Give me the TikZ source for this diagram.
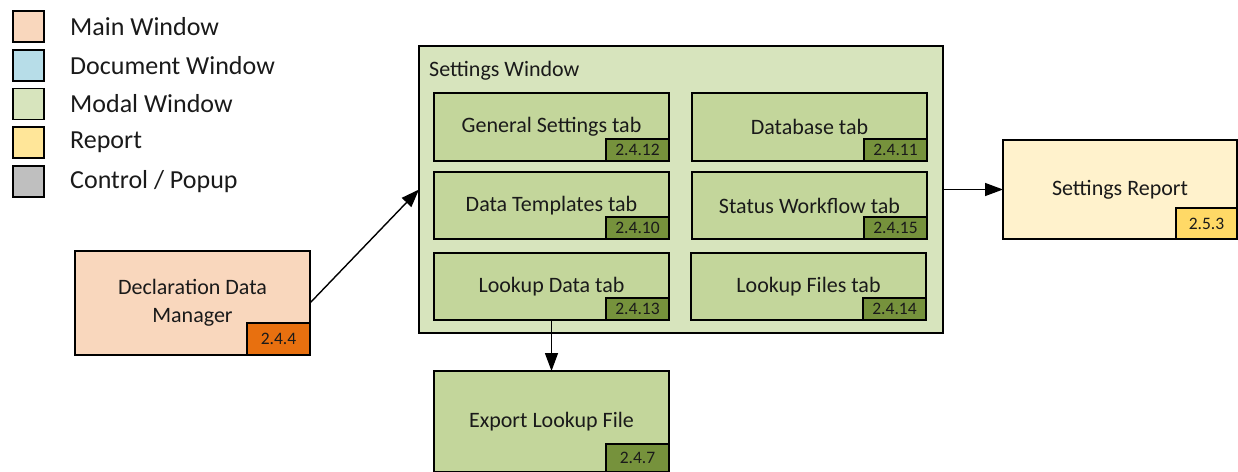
\documentclass[tikz,border=0pt]{standalone}
\usepackage{fontspec}
\setmainfont{Carlito}
\usetikzlibrary{arrows.meta}

\definecolor{mainfill}{HTML}{F9D7BD}
\definecolor{mainid}{HTML}{E8700F}
\definecolor{docfill}{HTML}{B7DDE8}
\definecolor{modalfill}{HTML}{D7E4BD}
\definecolor{tabfill}{HTML}{C3D69B}
\definecolor{modalid}{HTML}{76923C}
\definecolor{reportkey}{HTML}{FFE699}
\definecolor{reportfill}{HTML}{FFF2CC}
\definecolor{reportid}{HTML}{FFD966}
\definecolor{ctrlfill}{HTML}{BFBFBF}
\definecolor{ink}{HTML}{1A1A1A}

\tikzset{
  frame/.style={draw=black, line width=1.6pt, rectangle, inner sep=0pt, outer sep=0pt},
  keybox/.style={frame, minimum width=31pt, minimum height=31pt, anchor=north west},
  keytext/.style={anchor=west, inner sep=0pt, text=ink, font=\fontsize{26}{30}\selectfont},
  winbox/.style={frame, anchor=north west, text=ink, align=center,
    font=\fontsize{22}{27}\selectfont},
  tabbox/.style={winbox, fill=tabfill, minimum width=235pt, minimum height=68pt},
  idbox/.style={frame, anchor=south east, minimum width=63pt, text=ink,
    font=\fontsize{17.5}{20}\selectfont},
  flow/.style={draw=black, line width=1.4pt, -{Triangle[length=18pt,width=13pt]}}
}

\begin{document}
\begin{tikzpicture}[x=1pt,y=-1pt]
\useasboundingbox (0,0) rectangle (1238,471);

% legend
\node[keybox, fill=mainfill]   (k1) at (13,11)    {};
\node[keybox, fill=docfill]    (k2) at (13,49.75) {};
\node[keybox, fill=modalfill]  (k3) at (13,88.5)  {};
\node[keybox, fill=reportkey]  (k4) at (13,127.25){};
\node[keybox, fill=ctrlfill]   (k5) at (13,166)   {};
\node[keytext] (t1) at (70,26.5)  {Main Window};
\node[keytext] (t2) at (70,65.25) {Document Window};
\node[keytext] (t3) at (70,104)   {Modal Window};
\node[keytext] (t4) at (70,142.75){Report};
\node[keytext] (t5) at (70,181.5) {Control / Popup};

% main window
\node[winbox, fill=mainfill, minimum width=235pt, minimum height=104pt] (ddm) at (75,251)
  {Declaration Data\\[1pt]Manager};
\node[idbox, fill=mainid, minimum height=32pt] (ddmid) at (ddm.south east) {2.4.4};

% settings window with its tabs
\node[winbox, fill=modalfill, minimum width=524pt, minimum height=287pt] (sw) at (419,46) {};
\node[anchor=base west, inner sep=0pt, text=ink, font=\fontsize{22}{26}\selectfont]
  (swlabel) at (429,76) {Settings Window};

\node[tabbox] (gen) at (434,93)  {General Settings tab};
\node[tabbox] (db)  at (692,93)  {Database tab};
\node[tabbox, minimum height=67pt] (tpl) at (434,172) {Data Templates tab};
\node[tabbox, minimum height=67pt] (wf)  at (692,172) {Status Workflow tab};
\node[tabbox, minimum height=67pt] (lkd) at (434,253) {Lookup Data tab};
\node[tabbox, minimum height=67pt] (lkf) at (691,253) {Lookup Files tab};

\node[idbox, fill=modalid, minimum height=22pt] (genid) at (gen.south east) {2.4.12};
\node[idbox, fill=modalid, minimum height=22pt] (dbid)  at (db.south east)  {2.4.11};
\node[idbox, fill=modalid, minimum height=22pt] (tplid) at (tpl.south east) {2.4.10};
\node[idbox, fill=modalid, minimum height=22pt] (wfid)  at (wf.south east)  {2.4.15};
\node[idbox, fill=modalid, minimum height=22pt] (lkdid) at (lkd.south east) {2.4.13};
\node[idbox, fill=modalid, minimum height=22pt] (lkfid) at (lkf.south east) {2.4.14};

% report
\node[winbox, fill=reportfill, minimum width=234pt, minimum height=99pt] (rep) at (1003,140)
  {Settings Report};
\node[idbox, fill=reportid, minimum width=61pt, minimum height=31pt] (repid) at (rep.south east) {2.5.3};

% export dialog
\node[winbox, fill=tabfill, minimum width=235pt, minimum height=101pt] (exp) at (434,371)
  {Export Lookup File};
\node[idbox, fill=modalid, minimum height=28pt] (expid) at (exp.south east) {2.4.7};

% connectors
\draw[flow] (ddm.east) -- (sw.west);
\draw[flow] (sw.east) -- (rep.west);
\draw[flow] (lkd.south) -- (exp.north);
\end{tikzpicture}
\end{document}
